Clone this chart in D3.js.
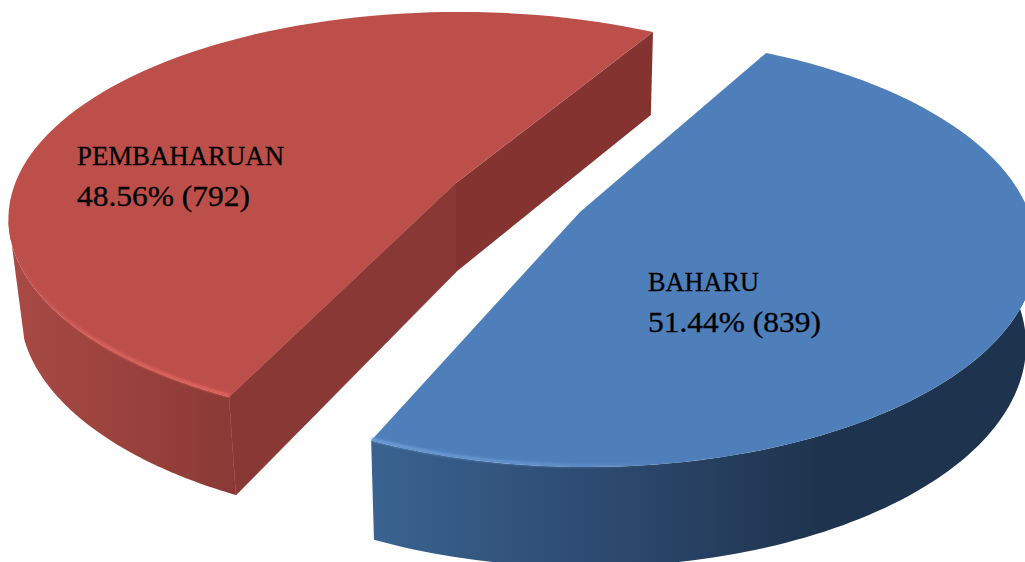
<!DOCTYPE html>
<html><head><meta charset="utf-8">
<script src="https://cdn.jsdelivr.net/npm/d3@7"></script>
<style>html,body{margin:0;padding:0;background:#fff;overflow:hidden}svg{display:block}</style>
</head><body><div id="chart"></div>
<script>
const categories = ["BAHARU", "PEMBAHARUAN"];
const counts = [839, 792];
const percentLabels = ["51.44%", "48.56%"];

const W = 1025, H = 562, rad = Math.PI / 180;
const look = [
  { turn: 0, apexTop:[580,212], apexBot:null,
    top:{cx:587,cy:251,rx:449.5,ry:216}, bot:{cx:585.5,cy:345,rx:440.5,ry:222},
    face:"#4e7fba", wallFrom:208.7, wallTo:80, botTo:80,
    stops:[[371,"#3a6391"],[560,"#2f4e75"],[700,"#274061"],[820,"#1e344e"],[1025,"#1e344e"]],
    rim:{from:208.7,to:150,color:"#6f9fd8",x0:371,x1:680,o:[0.9,0.6,0]},
    label:[648,291,332], nameLen:111 },
  { turn: 2, apexTop:[456,183], apexBot:[456,272],
    top:{cx:459,cy:218.9,rx:450.6,ry:207}, bot:{cx:461,cy:309.6,rx:441,ry:215.6},
    face:"#bd4f4b", wallFrom:210.7, wallTo:270, botTo:262,
    stops:[[10,"#a84a45"],[120,"#9b423d"],[236,"#8a3936"]],
    rim:{from:210.7,to:268,color:"#e2635d",x0:229,x1:15,o:[0.95,0.85,0]},
    label:[77,165,206], nameLen:207 }
];

const svg = d3.select("#chart").append("svg").attr("width",W).attr("height",H);
const defs = svg.append("defs");
defs.append("filter").attr("id","soft").append("feGaussianBlur").attr("stdDeviation",1);

const arcs = d3.pie().value(d=>d).sort(null)
  .startAngle(23.5*rad).endAngle(23.5*rad+2*Math.PI)(counts);

const pt = (e,deg)=>[e.cx+e.rx*Math.sin(deg*rad), e.cy-e.ry*Math.cos(deg*rad)];
const sweep = (a,b)=>{const n=90;return d3.range(n+1).map(i=>a+(b-a)*i/n);};
const line = d3.line();

arcs.forEach((arc,i)=>{
  const g = look[i];
  const s = arc.startAngle/rad + g.turn, e = arc.endAngle/rad + g.turn;
  const far = i===0 ? s : e, near = i===0 ? e : s;
  const layer = svg.append("g");

  // outer wall
  const wid = "wall"+i;
  const grad = defs.append("linearGradient").attr("id",wid)
    .attr("gradientUnits","userSpaceOnUse").attr("x1",0).attr("x2",W).attr("y1",0).attr("y2",0);
  g.stops.forEach(st=>grad.append("stop").attr("offset",st[0]/W).attr("stop-color",st[1]));
  const topEdge = sweep(g.wallFrom,g.wallTo).map(a=>pt(g.top,a));
  const botEdge = sweep(g.wallFrom,g.botTo).map(a=>pt(g.bot,a)).reverse();
  layer.append("path").attr("d",line(topEdge.concat(botEdge))+"Z")
    .attr("fill",`url(#${wid})`);

  // cut faces (only the red slice shows them)
  if (g.apexBot) {
    layer.append("path")
      .attr("d",line([g.apexTop,pt(g.top,near),pt(g.bot,near),g.apexBot])+"Z")
      .attr("fill","#8a3835").attr("stroke","#8a3835").attr("stroke-width",0.6);
    layer.append("path")
      .attr("d",line([g.apexTop,pt(g.top,far),pt(g.bot,far),g.apexBot])+"Z")
      .attr("fill","#843331");
  }

  // top surface
  const topAngles = i===0 ? sweep(far,near) : sweep(near,far);
  const topPts = topAngles.map(a=>pt(g.top,a));
  layer.append("path").attr("d",line([g.apexTop].concat(topPts))+"Z").attr("fill",g.face);

  // rim highlight, kept just inside the surface edge
  const rid = "rim"+i;
  const rg = defs.append("linearGradient").attr("id",rid).attr("gradientUnits","userSpaceOnUse")
    .attr("x1",g.rim.x0).attr("x2",g.rim.x1).attr("y1",0).attr("y2",0);
  [0,0.55,1].forEach((o,k)=>rg.append("stop").attr("offset",o)
    .attr("stop-color",g.rim.color).attr("stop-opacity",g.rim.o[k]));
  const inner = {cx:g.top.cx,cy:g.top.cy,rx:g.top.rx-1,ry:g.top.ry-1.5};
  layer.append("path").attr("d",line(sweep(g.rim.from,g.rim.to).map(a=>pt(inner,a))))
    .attr("fill","none").attr("stroke",`url(#${rid})`).attr("stroke-width",3.5).attr("filter","url(#soft)");

  // label
  const label = layer.append("g").attr("font-family","'Liberation Serif',serif")
    .attr("fill","#000").attr("stroke","#000").attr("stroke-width",0.3);
  label.append("text").attr("font-size",27).attr("x",g.label[0]).attr("y",g.label[1])
    .attr("textLength",g.nameLen).attr("lengthAdjust","spacingAndGlyphs").text(categories[i]);
  label.append("text").attr("font-size",28.5).attr("x",g.label[0]).attr("y",g.label[2])
    .attr("textLength",173).attr("lengthAdjust","spacingAndGlyphs")
    .text(`${percentLabels[i]} (${counts[i]})`);
});
</script></body></html>
